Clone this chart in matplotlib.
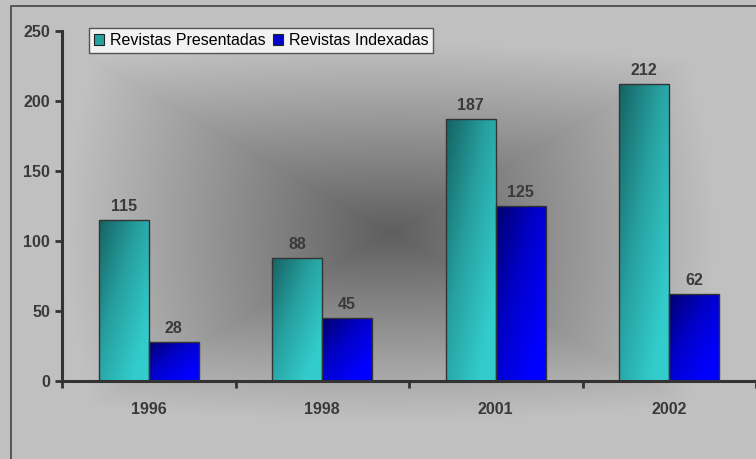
import numpy as np
import matplotlib
matplotlib.use("Agg")
import matplotlib.pyplot as plt
from matplotlib.patches import Patch
from matplotlib.colors import LinearSegmentedColormap

plt.rcParams['font.family'] = ['Liberation Sans', 'DejaVu Sans']

years = ['1996', '1998', '2001', '2002']
presentadas = [115, 88, 187, 212]
indexadas = [28, 45, 125, 62]
series_names = ['Revistas Presentadas', 'Revistas Indexadas']

W, H = 756, 459
fig = plt.figure(figsize=(W / 100, H / 100), dpi=100)

# background: "from center" grey gradient, mostly rectangular
bg = fig.add_axes([0, 0, 1, 1], zorder=-2)
bg.set_axis_off()
yy, xx = np.mgrid[0:H, 0:W]
dx = np.abs(xx - 390) / 390.0
dy = np.abs(yy - 232) / 227.0
d = 0.75 * np.maximum(dx, dy) + 0.25 * np.hypot(dx, dy) / 1.2
d = np.clip(d / 0.8, 0, 1)
val = 0.37 + (0.755 - 0.37) * d
bg.imshow(np.dstack([val, val, val]), extent=[0, W, H, 0], aspect='auto',
          interpolation='bilinear')
bg.set_xlim(0, W)
bg.set_ylim(H, 0)
# chart frame
bg.plot([10.5, 10.5, W], [H, 5.5, 5.5], color='#444444', lw=1.2)

ax = fig.add_axes([62 / W, 1 - 381 / H, 1 - 62 / W, 350 / H])
ax.patch.set_alpha(0)

teal = LinearSegmentedColormap.from_list('teal', ['#166363', '#27a0a0', '#33cccc'])
blue = LinearSegmentedColormap.from_list('blue', ['#000070', '#0000c8', '#0000ff'])

gy, gx = np.mgrid[0:1:100j, 0:1:60j]
grad = np.clip(0.6 * gx + 0.6 * gy, 0, 1)  # row 0 = top

bw = 0.288
x = np.arange(len(years)) + 0.5
for i in range(len(years)):
    for vals, cmap, off in [(presentadas, teal, -bw), (indexadas, blue, 0)]:
        v = vals[i]
        x0 = x[i] + off
        bar = ax.bar(x0, v, width=bw, align='edge', facecolor='none',
                     edgecolor='#333333', linewidth=1.0, zorder=3)[0]
        im = ax.imshow(grad, cmap=cmap, extent=[x0, x0 + bw, 0, v],
                       aspect='auto', origin='upper', zorder=2)
        im.set_clip_path(bar)
        ax.annotate(str(v), (x0 + bw / 2, v), xytext=(0, 6),
                    textcoords='offset pixels', ha='center', va='bottom',
                    fontsize=11.5, fontweight='bold', color='#3a3a3a')

ax.set_xlim(0, 4)
ax.set_ylim(0, 250)

for s in ['top', 'right']:
    ax.spines[s].set_visible(False)
for s in ['left', 'bottom']:
    ax.spines[s].set_linewidth(2.2)
    ax.spines[s].set_color('#333333')

ax.set_yticks(range(0, 251, 50))
ax.set_xticks(range(0, 5))
ax.set_xticklabels([])
ax.set_xticks(x, minor=True)
ax.set_xticklabels(years, minor=True)
ax.tick_params(axis='both', which='major', direction='out', length=5,
               width=2, color='#333333', labelsize=11.5, labelcolor='#3a3a3a')
ax.tick_params(axis='x', which='minor', length=0, pad=15, labelsize=11.5,
               labelcolor='#3a3a3a')
for lbl in ax.get_yticklabels() + ax.get_xticklabels(minor=True):
    lbl.set_fontweight('bold')

handles = [Patch(facecolor='#27a0a0', edgecolor='#222222', lw=0.8),
           Patch(facecolor='#0000c8', edgecolor='#222222', lw=0.8)]
leg = fig.legend(handles, series_names, loc='upper left',
                 bbox_to_anchor=(89 / W, 1 - 28 / H), ncol=2, fontsize=11.5,
                 frameon=True, fancybox=False, edgecolor='#333333',
                 handlelength=0.65, handleheight=0.65, handletextpad=0.35,
                 columnspacing=0.45, borderpad=0.3, borderaxespad=0)
leg.get_frame().set_linewidth(1.0)
leg.get_frame().set_facecolor('white')

fig.savefig('out.png', dpi=100)
